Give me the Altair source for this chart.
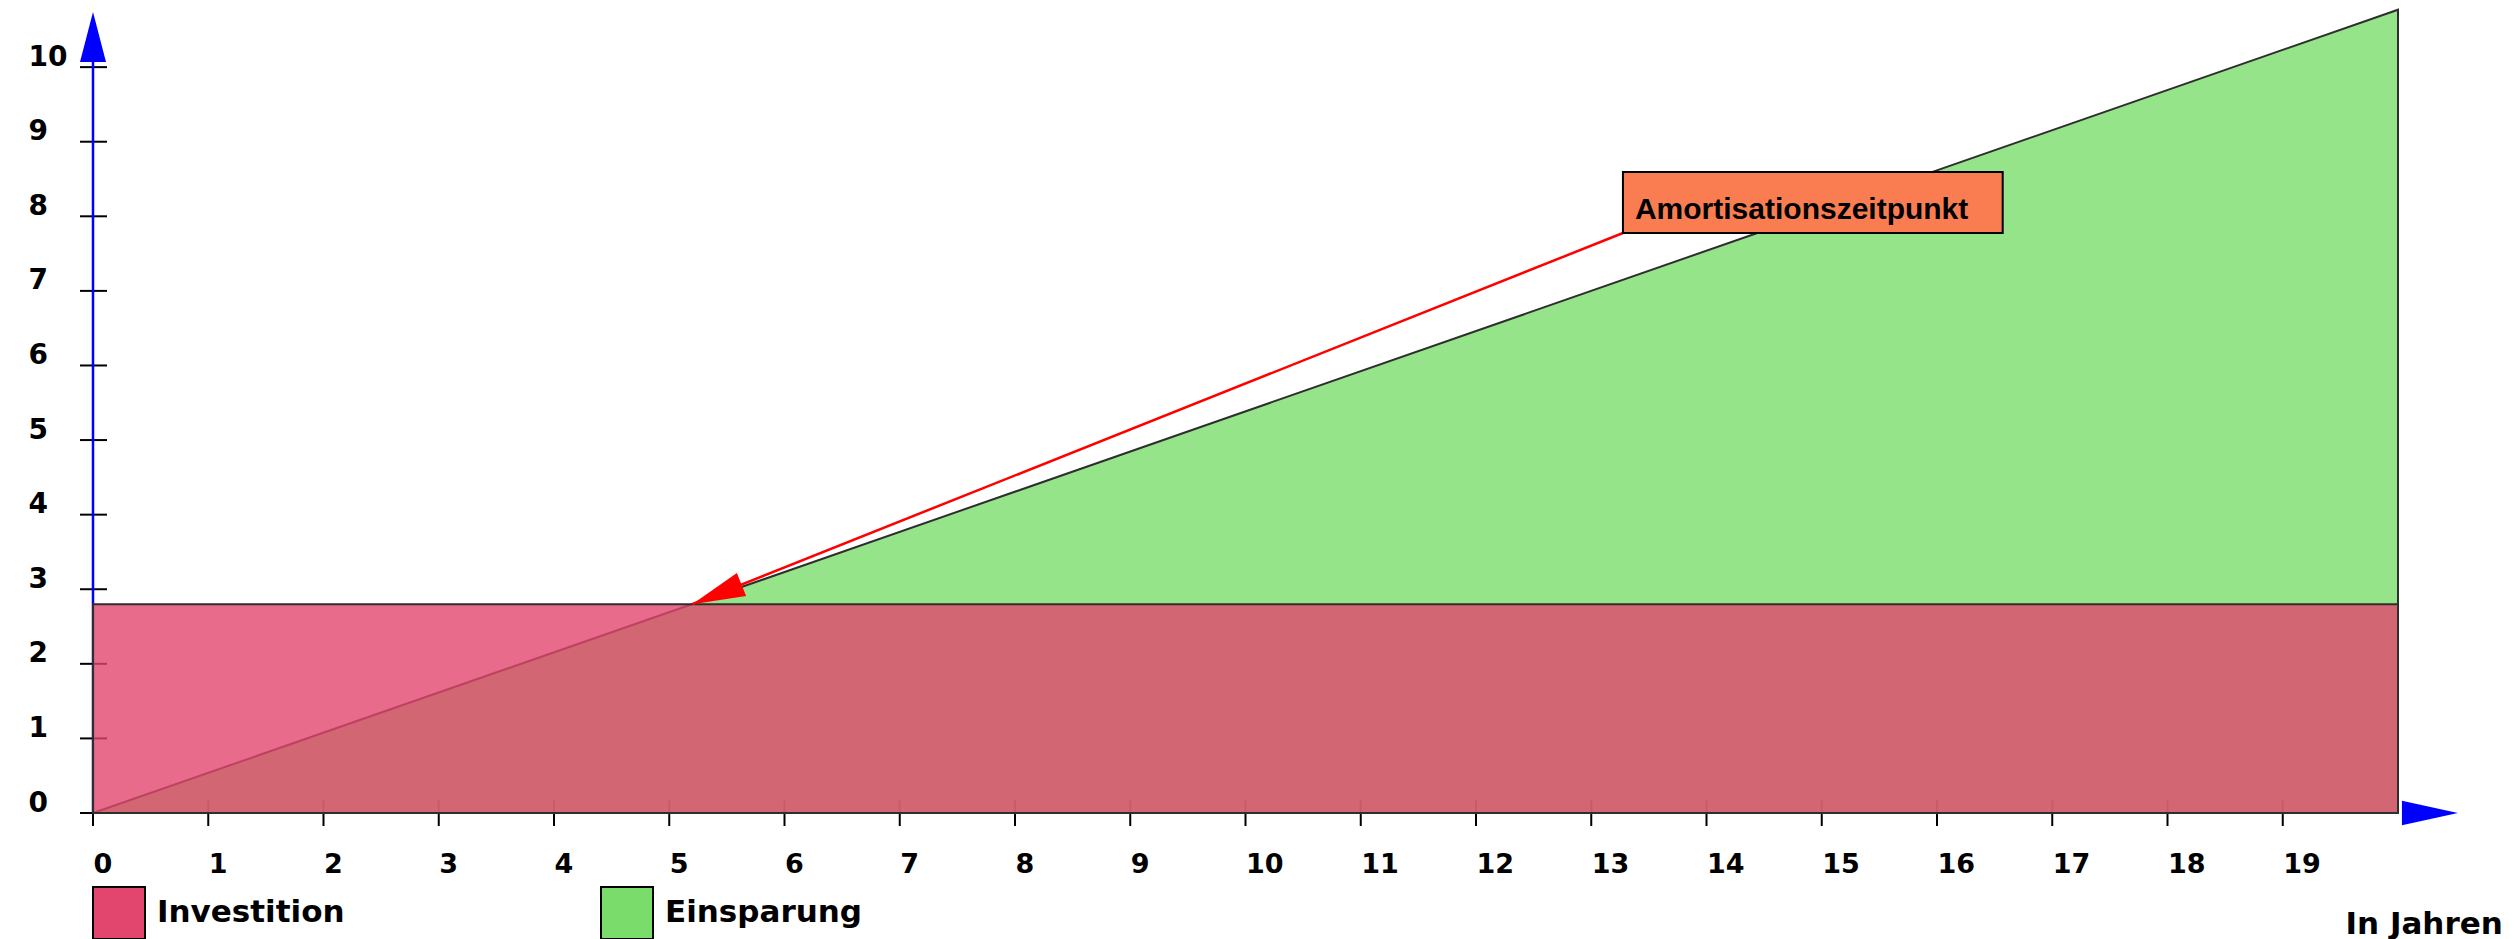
import math

import altair as alt
import pandas as pd

# --- values -----------------------------------------------------------------
YEARS = [0, 20]                 # Betrachtungszeitraum in Jahren
INVESTITION = [2.8, 2.8]        # einmalige Investition (konstant)
EINSPARUNG = [0.0, 10.77]       # kumulierte Einsparung
SERIES = ["Investition", "Einsparung"]
SERIES_COLORS = ["#E2466E", "#7ADD6B"]
X_TICKS = list(range(0, 20))
Y_TICKS = list(range(0, 11))
ANNOTATION = "Amortisationszeitpunkt"
X_TITLE = "In Jahren"

# --- layout -----------------------------------------------------------------
W, H = 2305, 813
X_DOMAIN = [0, 20]
Y_DOMAIN = [0, 10.9]
PX_X = W / (X_DOMAIN[1] - X_DOMAIN[0])
PX_Y = H / (Y_DOMAIN[1] - Y_DOMAIN[0])

LABEL_FONT = "DejaVu Sans"
NOTE_FONT = "Liberation Sans"
AXIS_BLUE = "#0000FF"
OUTLINE = "#2E2E2E"

# annotation box (data units)
BOX_X0, BOX_X1 = 13.275, 16.57
BOX_Y0, BOX_Y1 = 7.776, 8.594

# break-even point: where cumulated savings reach the investment
be_x = YEARS[0] + (INVESTITION[0] - EINSPARUNG[0]) / (EINSPARUNG[1] - EINSPARUNG[0]) * (YEARS[1] - YEARS[0])
be_y = INVESTITION[0]

# arrowhead direction (screen degrees, clockwise) from box corner to break-even point
dx_px = (be_x - BOX_X0) * PX_X
dy_px = -(be_y - BOX_Y0) * PX_Y
arrow_angle = math.degrees(math.atan2(dy_px, dx_px)) % 360

xs = alt.Scale(domain=X_DOMAIN, nice=False, zero=False)
ys = alt.Scale(domain=Y_DOMAIN, nice=False, zero=False)
color_scale = alt.Scale(domain=SERIES, range=SERIES_COLORS)

x_axis = alt.Axis(
    values=X_TICKS, ticks=False, tickSize=0, domain=False, grid=False,
    labelAlign="left", labelBaseline="alphabetic", labelPadding=59,
    labelFont=LABEL_FONT, labelFontSize=27, labelFontWeight="bold", labelColor="black",
    labelFlush=False, labelOverlap=False,
    title=X_TITLE, titleX=2252, titleY=120, titleAlign="left", titleBaseline="alphabetic",
    titleFont=LABEL_FONT, titleFontSize=31, titleFontWeight="bold", titleColor="black",
)
y_axis = alt.Axis(
    values=Y_TICKS, ticks=False, tickSize=0, domain=False, grid=False,
    labelAlign="left", labelBaseline="alphabetic", labelPadding=65, labelOffset=-2,
    labelFont=LABEL_FONT, labelFontSize=28, labelFontWeight="bold", labelColor="black",
    labelFlush=False, labelOverlap=False, title=None,
)


def X(field):
    return alt.X(field, scale=xs, axis=x_axis)


def Y(field):
    return alt.Y(field, scale=ys, axis=y_axis)


df_sav = pd.DataFrame({"Jahr": YEARS, "Wert": EINSPARUNG, "Reihe": "Einsparung"})
df_inv = pd.DataFrame({"Jahr": YEARS, "Wert": INVESTITION, "Reihe": "Investition"})

# tick marks crossing both axes
y_ticks = alt.Chart(pd.DataFrame({"v": Y_TICKS})).mark_rule(color="black", strokeWidth=2).encode(
    y=Y("v:Q"), x=alt.value(-13), x2=alt.value(14),
)
x_ticks = alt.Chart(pd.DataFrame({"v": X_TICKS})).mark_rule(color="black", strokeWidth=2).encode(
    x=X("v:Q"), y=alt.value(H - 13), y2=alt.value(H + 13),
)

# blue y axis line with arrowheads on both axes
Y_ARROW_BASE, Y_ARROW_TIP = 10.07, 10.74
X_ARROW_TIP = 20.52
y_line = alt.Chart(pd.DataFrame({"x": [0], "y": [0], "y2": [Y_ARROW_BASE]})).mark_rule(
    color=AXIS_BLUE, strokeWidth=2.5
).encode(x=X("x:Q"), y=Y("y:Q"), y2="y2:Q")

y_arrow = alt.Chart(pd.DataFrame({"x": [0], "y": [Y_ARROW_TIP]})).mark_point(
    shape="M0,0L-0.26,1L0.26,1Z", size=10000, filled=True, fill=AXIS_BLUE, stroke=None, opacity=1
).encode(x=X("x:Q"), y=Y("y:Q"))

x_arrow = alt.Chart(pd.DataFrame({"x": [X_ARROW_TIP], "y": [0]})).mark_point(
    shape="M0,0L-1,-0.22L-1,0.22Z", size=12544, filled=True, fill=AXIS_BLUE, stroke=None, opacity=1
).encode(x=X("x:Q"), y=Y("y:Q"))

legend = alt.Legend(
    title=None, orient="none", legendX=-1, legendY=886, direction="horizontal",
    symbolType="square", symbolSize=2704, symbolStrokeColor="black", symbolStrokeWidth=2,
    symbolOpacity=1, labelFont=LABEL_FONT, labelFontSize=31, labelFontWeight="bold",
    labelColor="black", labelOffset=11, labelLimit=0, columnPadding=252, padding=0,
)

savings = alt.Chart(df_sav).mark_area(
    fillOpacity=0.8, stroke=OUTLINE, strokeWidth=2
).encode(
    x=X("Jahr:Q"), y=Y("Wert:Q"),
    color=alt.Color("Reihe:N", scale=color_scale, legend=legend),
)
invest = alt.Chart(df_inv).mark_area(
    fillOpacity=0.8, stroke=OUTLINE, strokeWidth=2
).encode(
    x=X("Jahr:Q"), y=Y("Wert:Q"),
    color=alt.Color("Reihe:N", scale=color_scale, legend=legend),
)

# annotation: arrow from label box to the break-even point
pointer = alt.Chart(pd.DataFrame({"x": [BOX_X0], "y": [BOX_Y0], "x2": [be_x], "y2": [be_y]})).mark_rule(
    color="#FF0000", strokeWidth=2.5
).encode(x=X("x:Q"), y=Y("y:Q"), x2="x2:Q", y2="y2:Q")

pointer_head = alt.Chart(pd.DataFrame({"x": [be_x], "y": [be_y]})).mark_point(
    shape="M0,0L-2,-0.47L-2,0.47Z", size=2809, filled=True, fill="#FF0000", stroke=None,
    opacity=1, angle=arrow_angle,
).encode(x=X("x:Q"), y=Y("y:Q"))

note_box = alt.Chart(pd.DataFrame({"x": [BOX_X0], "x2": [BOX_X1], "y": [BOX_Y0], "y2": [BOX_Y1]})).mark_rect(
    fill="#FA7D52", stroke="black", strokeWidth=2
).encode(x=X("x:Q"), x2="x2:Q", y=Y("y:Q"), y2="y2:Q")

note_text = alt.Chart(pd.DataFrame({"x": [BOX_X0], "y": [BOX_Y0], "t": [ANNOTATION]})).mark_text(
    align="left", baseline="alphabetic", dx=12, dy=-14,
    font=NOTE_FONT, fontSize=30, fontWeight="bold", color="black",
).encode(x=X("x:Q"), y=Y("y:Q"), text="t:N")

chart = alt.layer(
    y_ticks, x_ticks, y_line, y_arrow, x_arrow, savings, invest,
    pointer, pointer_head, note_box, note_text,
).properties(
    width=W, height=H,
    padding={"left": 93, "top": 0, "right": 122, "bottom": 126},
    autosize="none", background="white",
).configure_view(stroke=None)

chart.save("out.html", embed_options={"renderer": "svg", "actions": False})
